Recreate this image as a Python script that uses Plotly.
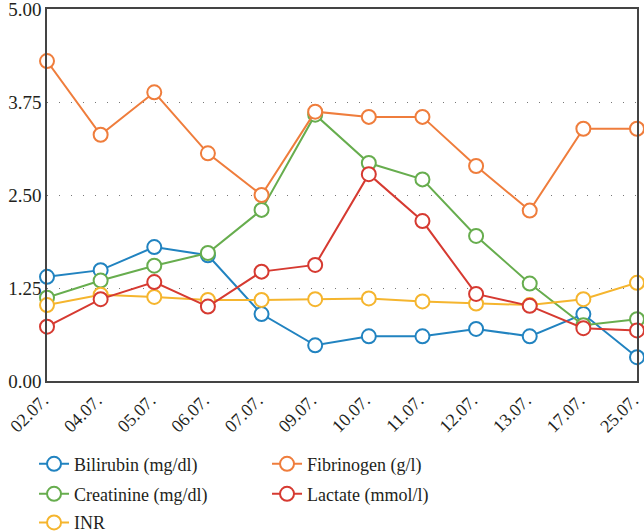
import plotly.graph_objects as go

dates = ["02.07.", "04.07.", "05.07.", "06.07.", "07.07.", "09.07.",
         "10.07.", "11.07.", "12.07.", "13.07.", "17.07.", "25.07."]

bilirubin = [1.40, 1.49, 1.80, 1.69, 0.90, 0.48, 0.60, 0.60, 0.70, 0.60, 0.90, 0.32]
creatinine = [1.12, 1.35, 1.55, 1.72, 2.30, 3.58, 2.93, 2.71, 1.95, 1.31, 0.75, 0.83]
inr = [1.02, 1.16, 1.13, 1.09, 1.09, 1.10, 1.11, 1.07, 1.04, 1.02, 1.10, 1.32]
fibrinogen = [4.30, 3.31, 3.88, 3.06, 2.50, 3.62, 3.55, 3.55, 2.89, 2.29, 3.39, 3.39]
lactate = [0.73, 1.10, 1.33, 1.00, 1.47, 1.56, 2.78, 2.15, 1.17, 1.01, 0.71, 0.68]

y_ticks = [0, 1.25, 2.5, 3.75, 5]

FONT = "Liberation Serif"
TXT = "#231f20"

series = [
    ("Bilirubin (mg/dl)", bilirubin, "#2183c0", "legend"),
    ("Creatinine (mg/dl)", creatinine, "#67ad4e", "legend2"),
    ("INR", inr, "#f5b52e", "legend3"),
    ("Fibrinogen (g/l)", fibrinogen, "#ef7d3c", "legend"),
    ("Lactate (mmol/l)", lactate, "#d63a31", "legend2"),
]

fig = go.Figure()
for name, vals, color, lg in series:
    fig.add_trace(go.Scatter(
        x=dates, y=vals, name=name, mode="lines+markers",
        line=dict(color=color, width=2),
        marker=dict(symbol="circle", size=14, color="white",
                    line=dict(color=color, width=2)),
        legend=lg, cliponaxis=False,
    ))

leg_common = dict(orientation="h", xanchor="left", yanchor="middle",
                  x=-0.022, entrywidth=188, entrywidthmode="pixels",
                  font=dict(family=FONT, size=18, color=TXT),
                  bgcolor="rgba(0,0,0,0)", borderwidth=0)

fig.update_layout(
    width=644, height=532,
    margin=dict(l=47, r=7, t=9, b=151, autoexpand=False),
    paper_bgcolor="white", plot_bgcolor="white",
    font=dict(family=FONT, size=18, color=TXT),
    showlegend=True,
    legend=dict(y=-0.2235, **leg_common),
    legend2=dict(y=-0.304, **leg_common),
    legend3=dict(y=-0.381, **leg_common),
    xaxis=dict(
        type="category", range=[0, len(dates) - 1], tickangle=-45,
        showgrid=False, showline=True, linecolor="#444444", linewidth=1.5,
        mirror=True, ticks="", tickfont=dict(family=FONT, size=18, color=TXT),
        zeroline=False, ticklabeloverflow="allow", automargin=False,
        ticklabelshift=-4,
    ),
    yaxis=dict(
        range=[0, 5], tickvals=y_ticks, tickformat=".2f",
        showgrid=True, gridcolor="#777777", gridwidth=1.3, griddash="1px,11px",
        showline=True, linecolor="#444444", linewidth=1.5, mirror=True,
        ticks="", tickfont=dict(family=FONT, size=19, color=TXT),
        zeroline=False, ticklabeloverflow="allow", automargin=False,
    ),
)

fig.write_html("out.html", config={"displayModeBar": False},
               post_script="document.body.style.margin='0';document.body.style.overflow='hidden';")
